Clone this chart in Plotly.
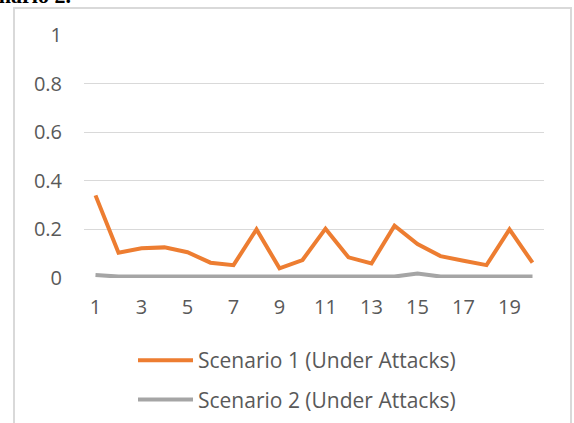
import plotly.graph_objects as go

x_vals = list(range(1, 21))
scenario1 = [0.34, 0.104, 0.122, 0.126, 0.106, 0.063, 0.053, 0.20, 0.04, 0.074,
             0.203, 0.085, 0.06, 0.215, 0.14, 0.09, 0.071, 0.053, 0.20, 0.063]
scenario2 = [0.012, 0.006, 0.006, 0.006, 0.006, 0.006, 0.006, 0.01, 0.006, 0.006,
             0.006, 0.006, 0.01, 0.006, 0.018, 0.006, 0.006, 0.006, 0.006, 0.006]
names = ["Scenario 1 (Under Attacks)", "Scenario 2 (Under Attacks)"]
x_ticks = list(range(1, 21, 2))
y_ticks = [0, 0.2, 0.4, 0.6, 0.8, 1]
y_tick_text = ["0", "0.2", "0.4", "0.6", "0.8", "1"]

W, H = 574, 423
L, R, T, B = 84, 30, 35, 145
pw, ph = W - L - R, H - T - B

def px_x(p):
    return (p - L) / pw

def px_y(p):
    return (H - B - p) / ph

fig = go.Figure()
fig.add_trace(go.Scatter(x=x_vals, y=scenario1, mode="lines", name=names[0],
                         line=dict(color="#ED7D31", width=4), legendgroup="a"))
fig.add_trace(go.Scatter(x=x_vals, y=scenario2, mode="lines", name=names[1],
                         line=dict(color="#A5A5A5", width=4), legendgroup="b"))

font_family = "Open Sans, sans-serif"
fig.update_layout(
    width=W, height=H,
    margin=dict(l=L, r=R, t=T, b=B, autoexpand=False),
    paper_bgcolor="white", plot_bgcolor="white",
    showlegend=True,
    legend=dict(orientation="v", x=px_x(133), xanchor="left", y=px_y(340), yanchor="top",
                font=dict(family=font_family, size=21, color="#595959"),
                tracegroupgap=9, itemwidth=55, bgcolor="rgba(0,0,0,0)"),
    xaxis=dict(range=[0.5, 20.5], tickmode="array", tickvals=x_ticks,
               ticktext=[str(t) for t in x_ticks], showgrid=False, zeroline=False,
               showline=False, ticks="", ticklabelstandoff=15,
               tickfont=dict(family=font_family, size=20, color="#595959")),
    yaxis=dict(range=[0, 1], tickmode="array", tickvals=y_ticks, ticktext=y_tick_text,
               showgrid=True, gridcolor="#D9D9D9", gridwidth=1, zeroline=False,
               showline=False, ticks="", ticklabelstandoff=21,
               tickfont=dict(family=font_family, size=20, color="#595959")),
)

# outer chart border
fig.add_shape(type="rect", xref="paper", yref="paper",
              x0=px_x(14), x1=px_x(571), y0=px_y(440), y1=px_y(8),
              line=dict(color="#D9D9D9", width=2), fillcolor="rgba(0,0,0,0)", layer="below")

# caption partially cut at the top of the image
fig.add_annotation(text="<b>Scenario 2.</b>", xref="paper", yref="paper",
                   x=px_x(73), y=px_y(10), xanchor="right", yanchor="bottom",
                   showarrow=False, font=dict(family="Liberation Serif", size=22, color="black"))

fig.write_html("out.html")
